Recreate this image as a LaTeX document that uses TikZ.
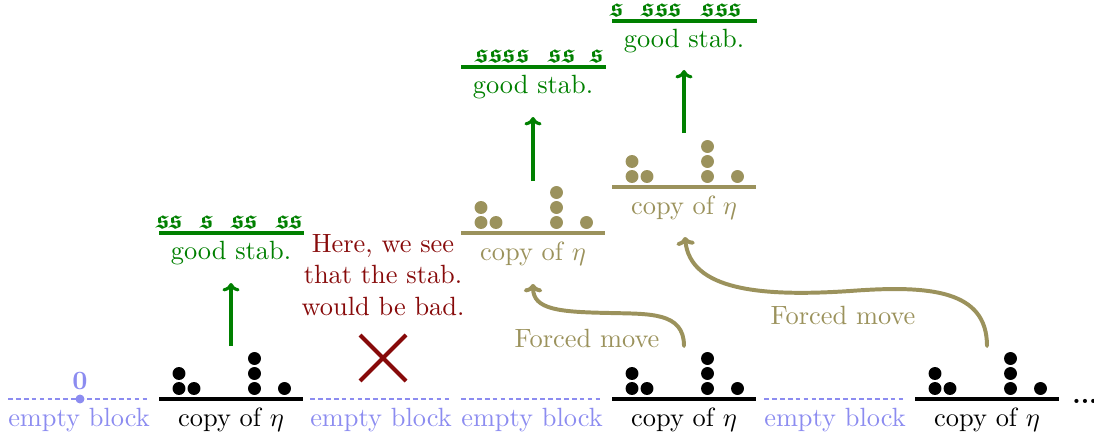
\documentclass[tikz,border=0pt]{standalone}
\usepackage{amsmath,amssymb}
\usetikzlibrary{arrows.meta}
\definecolor{lav}{RGB}{140,140,240}
\definecolor{oli}{RGB}{155,146,92}
\definecolor{grn}{RGB}{0,128,0}
\definecolor{dred}{RGB}{135,10,10}
\newcommand{\etablock}[4]{%
  \draw[#4, line width=1.15pt] (#2,#3) -- ++(144,0);
  \foreach \dx/\dy in {20/10.5, 20/25.5, 35/10.5, 95.5/10.5, 95.5/25.5, 95.5/40.5, 125.5/10.5}
    \fill[#4] (#2+\dx, #3-\dy) circle[radius=2.45pt];
  \node[lbl, text=#4] (#1) at (#2+72, #3+21) {copy of $\eta$};}
\newcommand{\emptyblock}[2]{%
  \draw[lav, line width=1.05pt, dash pattern=on 1.8pt off 1.2pt] (#2,399) -- ++(142,0);
  \node[lbl, text=lav] (#1) at (#2+71, 420) {empty block};}
\newcommand{\stabline}[4]{% name, L, Y, list of x
  \draw[grn, line width=1.15pt] (#2,#3) -- ++(145,0);
  \foreach \sx [count=\i] in {#4}
    \node[sym] (#1-s\i) at (\sx, #3-4.5) {$\boldsymbol{\mathfrak{s}}$};
  \node[lbl, text=grn] (#1) at (#2+72, #3+20) {good stab.};}
\begin{document}
\begin{tikzpicture}[x=0.379pt,y=-0.379pt,
  lbl/.style={inner sep=0pt, font=\normalsize},
  sym/.style={inner sep=0pt, anchor=base, text=grn},
  uparrow/.style={grn, line width=1.2pt, -{To[length=3.2pt,width=6.5pt]}},
  forced/.style={oli, line width=1.5pt, line cap=round, -{To[length=3.2pt,width=7pt]}}]
\useasboundingbox (0,0) rectangle (1094,438);
% bottom row
\emptyblock{e1}{8}
\fill[lav] (80,399) circle[radius=1.7pt];
\node[lbl, text=lav, font=\bfseries] (zero) at (80,381) {0};
\etablock{c1}{159}{399}{black}
\emptyblock{e2}{310}
\emptyblock{e3}{461}
\etablock{c2}{612}{399}{black}
\emptyblock{e4}{764}
\etablock{c3}{915}{399}{black}
\node[lbl, font=\bfseries, anchor=base] (dots) at (1085,403) {...};
% raised copies
\etablock{r1}{461}{233}{oli}
\etablock{r2}{612}{187}{oli}
% good stabs
\stabline{g1}{159}{233}{163,176,207,238,251,283,296}
\stabline{g2}{461}{67}{482,496,509,523,555,569,597}
\stabline{g3}{612}{21}{617,648,662,675,708,722,735}
% green arrows
\coordinate (a1s) at (231,346); \coordinate (a1e) at (231,283);
\coordinate (a2s) at (533,181); \coordinate (a2e) at (533,117);
\coordinate (a3s) at (684,133); \coordinate (a3e) at (684,70);
\draw[uparrow] (a1s) -- (a1e);
\draw[uparrow] (a2s) -- (a2e);
\draw[uparrow] (a3s) -- (a3e);
% bad stab
\node[lbl, text=dred, align=center] (bad) at (383,275) {Here, we see\\that the stab.\\would be bad.};
\coordinate (x1) at (360,335); \coordinate (x2) at (406,381);
\coordinate (x3) at (360,381); \coordinate (x4) at (406,335);
\draw[dred, line width=1.5pt] (x1) -- (x2) (x3) -- (x4);
% forced moves
\coordinate (f1s) at (684,346); \coordinate (f1e) at (533,284);
\coordinate (f2s) at (987,346); \coordinate (f2e) at (685,237);
\draw[forced] (f1s) .. controls (684,312) and (650,314) .. (610,313) .. controls (560,312) and (533,310) .. (f1e);
\draw[forced] (f2s) .. controls (987,290) and (930,285) .. (850,291) .. controls (760,297) and (690,290) .. (f2e);
\node[lbl, text=oli] (fm1) at (587,338) {Forced move};
\node[lbl, text=oli] (fm2) at (843,315) {Forced move};
\end{tikzpicture}
\end{document}
